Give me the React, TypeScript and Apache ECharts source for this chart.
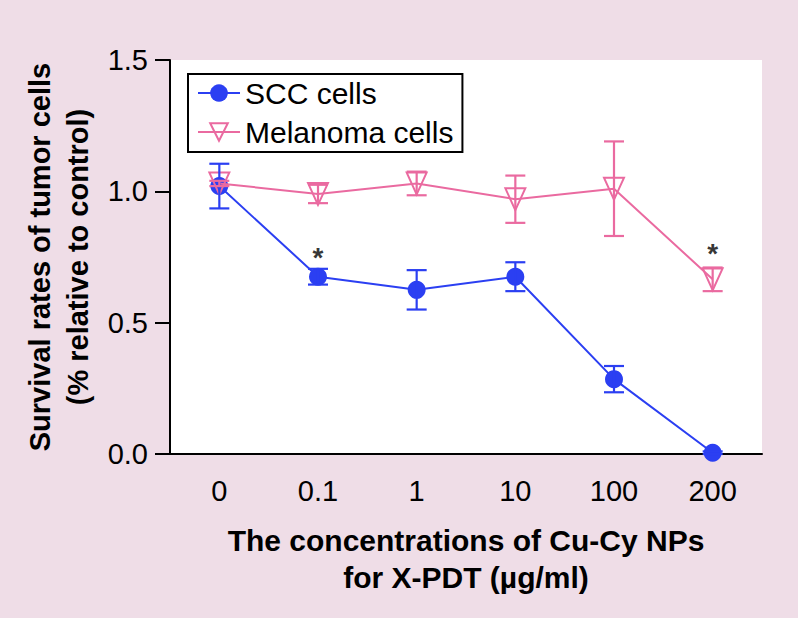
import React, { useEffect, useRef } from "react";
import * as echarts from "echarts";

const categories = ["0", "0.1", "1", "10", "100", "200"];
const sccMean = [1.02, 0.675, 0.625, 0.675, 0.285, 0.005];
const sccErr = [0.085, 0.03, 0.075, 0.055, 0.05, 0.005];
const melMean = [1.03, 0.99, 1.03, 0.97, 1.01, 0.665];
const melErr = [0.01, 0.035, 0.045, 0.09, 0.18, 0.045];
const starCategories = ["0.1", "200"];
const starValues = [0.75, 0.762];

const BLUE = "#2b3ff2";
const PINK = "#ea6aa0";
const BG = "#efdde7";
const FONT = "'Liberation Sans', Arial, Helvetica, sans-serif";

function errData(mean: number[], err: number[]) {
  return mean.map((m, i) => [i, m - err[i], m + err[i]]);
}

function errSeries(name: string, mean: number[], err: number[], color: string, z: number) {
  return {
    type: "custom",
    name: name + " err",
    data: errData(mean, err),
    encode: { x: 0, y: [1, 2] },
    z,
    silent: true,
    renderItem: (params: any, api: any) => {
      const x = api.value(0);
      const lo = api.coord([x, api.value(1)]);
      const hi = api.coord([x, api.value(2)]);
      const hw = 10;
      const st = { stroke: color, lineWidth: 2.2, fill: null };
      return {
        type: "group",
        children: [
          { type: "line", shape: { x1: hi[0], y1: hi[1], x2: lo[0], y2: lo[1] }, style: st },
          { type: "line", shape: { x1: hi[0] - hw, y1: hi[1], x2: hi[0] + hw, y2: hi[1] }, style: st },
          { type: "line", shape: { x1: lo[0] - hw, y1: lo[1], x2: lo[0] + hw, y2: lo[1] }, style: st },
        ],
      };
    },
  };
}

export default function App() {
  const ref = useRef<HTMLDivElement>(null);
  useEffect(() => {
    const chart = echarts.init(ref.current!, null, { renderer: "svg" });
    chart.setOption({
      animation: false,
      backgroundColor: BG,
      textStyle: { fontFamily: FONT },
      grid: {
        left: 170,
        right: 36,
        top: 60,
        bottom: 164,
        show: true,
        backgroundColor: "#ffffff",
        borderWidth: 0,
      },
      legend: {
        data: ["SCC cells", "Melanoma cells"],
        orient: "vertical",
        left: 188,
        top: 74,
        padding: [4, 9, 5, 9],
        itemGap: 9,
        itemWidth: 42,
        itemHeight: 22,
        borderColor: "#000",
        borderWidth: 2,
        borderRadius: 0,
        backgroundColor: "#fff",
        textStyle: { fontSize: 30, color: "#000", fontFamily: FONT },
      },
      xAxis: {
        type: "category",
        data: categories,
        axisLine: { lineStyle: { color: "#000", width: 2 } },
        axisTick: { alignWithLabel: true, length: 13, lineStyle: { color: "#000", width: 2 } },
        axisLabel: { color: "#000", fontSize: 29, margin: 22, fontFamily: FONT },
        name: "The concentrations of Cu-Cy NPs\nfor X-PDT (\u00b5g/ml)",
        nameLocation: "middle",
        nameGap: 68,
        nameTextStyle: { fontSize: 30, fontWeight: "bold", color: "#000", lineHeight: 37, fontFamily: FONT },
      },
      yAxis: {
        type: "value",
        min: 0,
        max: 1.5,
        interval: 0.5,
        splitLine: { show: false },
        axisLine: { show: true, lineStyle: { color: "#000", width: 2 } },
        axisTick: { show: true, length: 15, lineStyle: { color: "#000", width: 2 } },
        axisLabel: {
          color: "#000",
          fontSize: 29,
          margin: 22,
          fontFamily: FONT,
          formatter: (v: number) => v.toFixed(1),
        },
        name: "Survival rates of tumor cells\n(% relative to control)",
        nameLocation: "middle",
        nameRotate: 90,
        nameGap: 72,
        nameTextStyle: { fontSize: 29, fontWeight: "bold", color: "#000", lineHeight: 38, fontFamily: FONT },
      },
      series: [
        {
          name: "SCC cells",
          type: "line",
          data: sccMean,
          symbol: "circle",
          symbolSize: 18,
          z: 3,
          lineStyle: { color: BLUE, width: 2 },
          itemStyle: { color: BLUE },
        },
        {
          name: "Melanoma cells",
          type: "line",
          data: melMean,
          symbol: "triangle",
          symbolRotate: 180,
          symbolSize: [20, 22],
          z: 4,
          lineStyle: { color: PINK, width: 2 },
          itemStyle: { color: "rgba(255,255,255,0)", borderColor: PINK, borderWidth: 2 },
        },
        errSeries("SCC cells", sccMean, sccErr, BLUE, 5),
        errSeries("Melanoma cells", melMean, melErr, PINK, 5),
        {
          type: "scatter",
          name: "significance",
          data: starCategories.map((c, i) => [c, starValues[i]]),
          symbolSize: 1,
          itemStyle: { color: "rgba(0,0,0,0)" },
          silent: true,
          z: 6,
          label: {
            show: true,
            position: "inside",
            formatter: "*",
            fontSize: 28,
            fontWeight: "bold",
            color: "#000",
            fontFamily: FONT,
          },
        },
      ],
    });
    return () => chart.dispose();
  }, []);
  return (
    <div
      ref={ref}
      style={{ position: "fixed", left: 0, top: 0, width: 798, height: 618 }}
    />
  );
}
